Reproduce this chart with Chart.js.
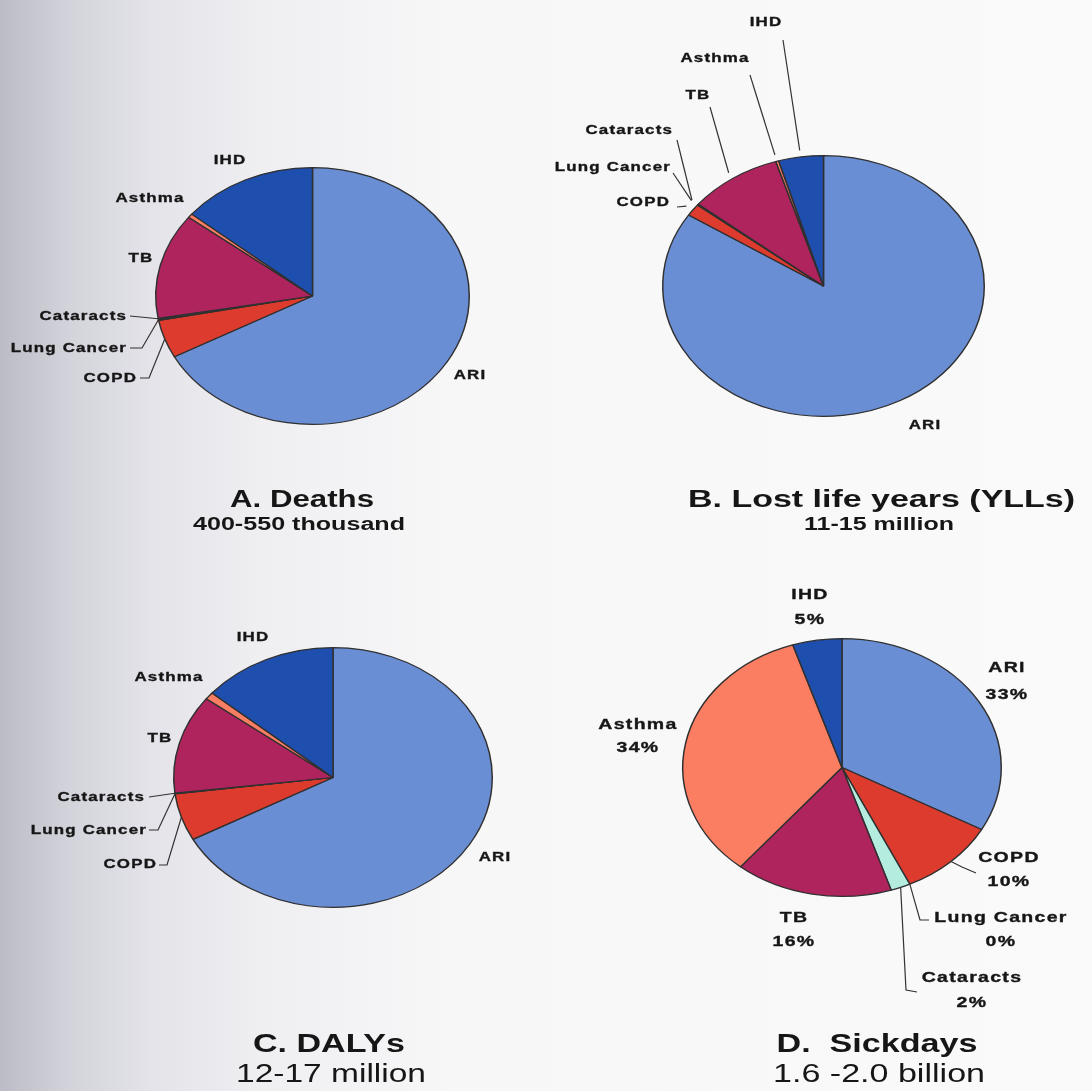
<!DOCTYPE html>
<html>
<head>
<meta charset="utf-8">
<script src="https://cdn.jsdelivr.net/npm/chart.js@4.4.1/dist/chart.umd.min.js"></script>
<style>
  html, body { margin: 0; padding: 0; }
  body {
    width: 1092px; height: 1091px; overflow: hidden; position: relative;
    background: linear-gradient(to right, #bcbcc6 0px, #d3d3db 70px, #e3e3e9 150px, #efeff2 260px, #f7f7f8 450px, #fafafa 100%);
  }
  canvas { position: absolute; left: 0; top: 0; pointer-events: none; }
</style>
</head>
<body>
<canvas id="pieA" width="1092" height="1091"></canvas>
<canvas id="pieB" width="1092" height="1091"></canvas>
<canvas id="pieC" width="1092" height="1091"></canvas>
<canvas id="pieD" width="1092" height="1091"></canvas>
<script>
// Health burden by disease, four measures (shares, %)
const categories = ['ARI', 'COPD', 'Lung Cancer', 'Cataracts', 'TB', 'Asthma', 'IHD'];
const deathsShare   = [67.2, 4.8, 0.15, 0.1, 13.3, 0.5, 14.0];
const yllsShare     = [84.2, 1.5, 0.1, 0.05, 9.4, 0.3, 4.5];
const dalysShare    = [67.2, 5.9, 0.05, 0.05, 12.3, 0.9, 13.75];
const sickdaysShare = [33, 10, 0, 2, 16, 34, 5];

const chartTitles = ['A. Deaths', 'B. Lost life years (YLLs)', 'C. DALYs', 'D.  Sickdays'];
const chartTotals = ['400-550 thousand', '11-15 million', '12-17 million', '1.6 -2.0 billion'];

const sliceColors = ['#6a8ed4', '#dc3b2e', '#701a5e', '#b4ece0', '#b0245e', '#fb7d62', '#1f4fae'];
const INK = '#161616';
const W = 1092, H = 1091;

// Draw text squeezed or widened horizontally around its anchor
function drawText(ctx, t) {
  ctx.save();
  ctx.font = t.font;
  ctx.fillStyle = INK;
  ctx.strokeStyle = INK;
  ctx.lineWidth = t.weight || 0;
  ctx.letterSpacing = (t.spacing || 0) + 'px';
  ctx.textBaseline = t.baseline || 'middle';
  ctx.textAlign = 'left';
  const w = ctx.measureText(t.text).width;
  const sx = t.width ? t.width / w : (t.stretch || 1.3);
  const dw = w * sx;
  let x0 = t.x - dw / 2;
  if (t.align === 'right') x0 = t.x - dw;
  else if (t.align === 'left') x0 = t.x;
  ctx.translate(x0, t.y);
  ctx.scale(sx, 1);
  ctx.fillText(t.text, 0, 0);
  if (t.weight) ctx.strokeText(t.text, 0, 0);
  ctx.restore();
}

// Pies are drawn as ellipses: squash the dataset drawing about the pie centre
const ellipsePie = {
  id: 'ellipsePie',
  beforeDatasetsDraw(chart, args, opts) {
    const arc = chart.getDatasetMeta(0).data[0];
    const ctx = chart.ctx;
    ctx.save();
    ctx.translate(arc.x, arc.y);
    ctx.scale(opts.stretch, 1);
    ctx.translate(-arc.x, -arc.y);
  },
  afterDatasetsDraw(chart) {
    chart.ctx.restore();
  }
};

// Slice labels with leader lines, plus the caption under each pie
const pieNotes = {
  id: 'pieNotes',
  afterDraw(chart, args, opts) {
    const ctx = chart.ctx;
    const meta = chart.getDatasetMeta(0);
    const values = chart.data.datasets[0].data;
    const total = values.reduce((a, b) => a + b, 0);
    const stretch = chart.options.plugins.ellipsePie.stretch;
    opts.labels.forEach(l => {
      const arc = meta.data[l.i];
      if (l.path) {
        const mid = (arc.startAngle + arc.endAngle) / 2;
        const r = arc.outerRadius * (opts.reach || 1);
        const ex = arc.x + Math.cos(mid) * r * stretch;
        const ey = arc.y + Math.sin(mid) * r;
        ctx.save();
        ctx.strokeStyle = '#333333';
        ctx.lineWidth = 1.2;
        ctx.beginPath();
        ctx.moveTo(l.path[0][0], l.path[0][1]);
        for (let k = 1; k < l.path.length; k++) ctx.lineTo(l.path[k][0], l.path[k][1]);
        ctx.lineTo(ex, ey);
        ctx.stroke();
        ctx.restore();
      }
      const font = opts.font;
      drawText(ctx, { text: chart.data.labels[l.i], x: l.x, y: l.y, align: l.align, font, spacing: opts.spacing, stretch: 1.3, weight: 0.35 });
      if (opts.percent) {
        const pct = Math.round(values[l.i] / total * 100) + '%';
        drawText(ctx, { text: pct, x: l.x, y: l.y2, align: l.align, font, spacing: opts.spacing, stretch: 1.3, weight: 0.35 });
      }
    });
    opts.captions.forEach(c => drawText(ctx, Object.assign({ baseline: 'alphabetic' }, c)));
  }
};

function makePie(id, values, geo, notes) {
  const pad = {
    left: geo.cx - geo.ry,
    right: W - geo.cx - geo.ry,
    top: geo.cy - geo.ry,
    bottom: H - geo.cy - geo.ry
  };
  return new Chart(document.getElementById(id), {
    type: 'pie',
    data: {
      labels: categories,
      datasets: [{
        data: values,
        backgroundColor: sliceColors,
        borderColor: '#303030',
        borderWidth: 1.2
      }]
    },
    options: {
      responsive: false,
      animation: false,
      events: [],
      layout: { padding: pad },
      plugins: {
        legend: { display: false },
        tooltip: { enabled: false },
        ellipsePie: { stretch: geo.rx / geo.ry },
        pieNotes: notes
      }
    },
    plugins: [ellipsePie, pieNotes]
  });
}

const smallFont = 'bold 13px "Liberation Sans", Arial, sans-serif';
const bigFont = 'bold 15px "Liberation Sans", Arial, sans-serif';

makePie('pieA', deathsShare, { cx: 312.5, cy: 296, rx: 157.5, ry: 129 }, {
  font: smallFont, spacing: 0.9, reach: 1.0,
  labels: [
    { i: 0, x: 470, y: 375 },
    { i: 1, x: 137, y: 378, align: 'right', path: [[140, 378], [149, 378]] },
    { i: 2, x: 127, y: 348, align: 'right', path: [[130, 348], [142, 348]] },
    { i: 3, x: 127, y: 316, align: 'right', path: [[130, 316]] },
    { i: 4, x: 141, y: 258 },
    { i: 5, x: 150, y: 198 },
    { i: 6, x: 230, y: 160 }
  ],
  captions: [
    { text: chartTitles[0], x: 302, y: 507, width: 144, font: 'bold 23px "Liberation Sans", Arial, sans-serif' },
    { text: chartTotals[0], x: 299, y: 530, width: 212, font: 'bold 18px "Liberation Sans", Arial, sans-serif' }
  ]
});

makePie('pieB', yllsShare, { cx: 823.5, cy: 286, rx: 161.5, ry: 131 }, {
  font: smallFont, spacing: 0.9, reach: 1.05,
  labels: [
    { i: 0, x: 925, y: 425 },
    { i: 1, x: 670, y: 202, align: 'right', path: [[677, 207]] },
    { i: 2, x: 671, y: 167, align: 'right', path: [[673, 173]] },
    { i: 3, x: 673, y: 130, align: 'right', path: [[677, 140]] },
    { i: 4, x: 698, y: 95, path: [[710, 107]] },
    { i: 5, x: 715, y: 58, path: [[750, 75]] },
    { i: 6, x: 766, y: 22, path: [[783, 40]] }
  ],
  captions: [
    { text: chartTitles[1], x: 881.5, y: 507, width: 387, font: 'bold 23px "Liberation Sans", Arial, sans-serif' },
    { text: chartTotals[1], x: 879, y: 530, width: 150, font: 'bold 18px "Liberation Sans", Arial, sans-serif' }
  ]
});

makePie('pieC', dalysShare, { cx: 333, cy: 777.5, rx: 160, ry: 130.5 }, {
  font: smallFont, spacing: 0.9, reach: 1.0,
  labels: [
    { i: 0, x: 495, y: 857 },
    { i: 1, x: 157, y: 864, align: 'right', path: [[159, 865], [167, 865]] },
    { i: 2, x: 147, y: 830, align: 'right', path: [[149, 830], [158, 830]] },
    { i: 3, x: 145, y: 797, align: 'right', path: [[149, 797]] },
    { i: 4, x: 160, y: 738 },
    { i: 5, x: 169, y: 677 },
    { i: 6, x: 253, y: 637 }
  ],
  captions: [
    { text: chartTitles[2], x: 329, y: 1052, width: 152, font: 'bold 25px "Liberation Sans", Arial, sans-serif' },
    { text: chartTotals[2], x: 331, y: 1082, width: 190, font: '25px "Liberation Sans", Arial, sans-serif' }
  ]
});

makePie('pieD', sickdaysShare, { cx: 842, cy: 767.5, rx: 160, ry: 129.5 }, {
  font: bigFont, spacing: 1.0, reach: 1.0, percent: true,
  labels: [
    { i: 0, x: 1007, y: 668, y2: 695 },
    { i: 1, x: 1009, y: 858, y2: 882, path: [[976, 873], [962, 867]] },
    { i: 2, x: 1001, y: 918, y2: 942, path: [[929, 920], [920, 920]] },
    { i: 3, x: 972, y: 978, y2: 1003, path: [[917, 992], [906, 990]] },
    { i: 4, x: 794, y: 918, y2: 942 },
    { i: 5, x: 638, y: 725, y2: 748 },
    { i: 6, x: 810, y: 595, y2: 620 }
  ],
  captions: [
    { text: chartTitles[3], x: 877, y: 1052, width: 201, font: 'bold 25px "Liberation Sans", Arial, sans-serif' },
    { text: chartTotals[3], x: 879, y: 1082, width: 212, font: '25px "Liberation Sans", Arial, sans-serif' }
  ]
});
</script>
</body>
</html>
